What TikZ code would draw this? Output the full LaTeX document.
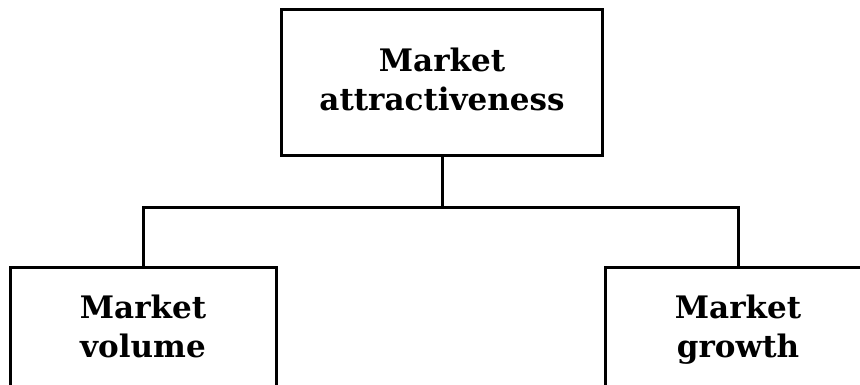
\documentclass[tikz,border=0pt]{standalone}
\usepackage{fontspec}
\setmainfont{DejaVu Serif}
\tikzset{
  box/.style={draw,line width=3pt,fill=white,align=center,text depth=7pt,
    font=\fontsize{31}{39}\selectfont\bfseries},
  link/.style={line width=3pt}
}
\begin{document}
\begin{tikzpicture}[x=1pt,y=-1pt]
   \clip (0,0) rectangle (860,385);
   \fill[white] (0,0) rectangle (860,385);

   \node[box,minimum width=321pt,minimum height=146pt] at (442,83) (attr) {Market\\attractiveness};
   \node[box,minimum width=266pt,minimum height=126pt] at (143,330) (vol) {Market\\volume};
   \node[box,minimum width=266pt,minimum height=126pt] at (738,330) (grow) {Market\\growth};

   \coordinate (j) at (442,208);

   \draw[link] (attr.south) -- (j);
   \draw[link] (vol.north) |- (j);
   \draw[link] (grow.north) |- (j);

\end{tikzpicture}
\end{document}
